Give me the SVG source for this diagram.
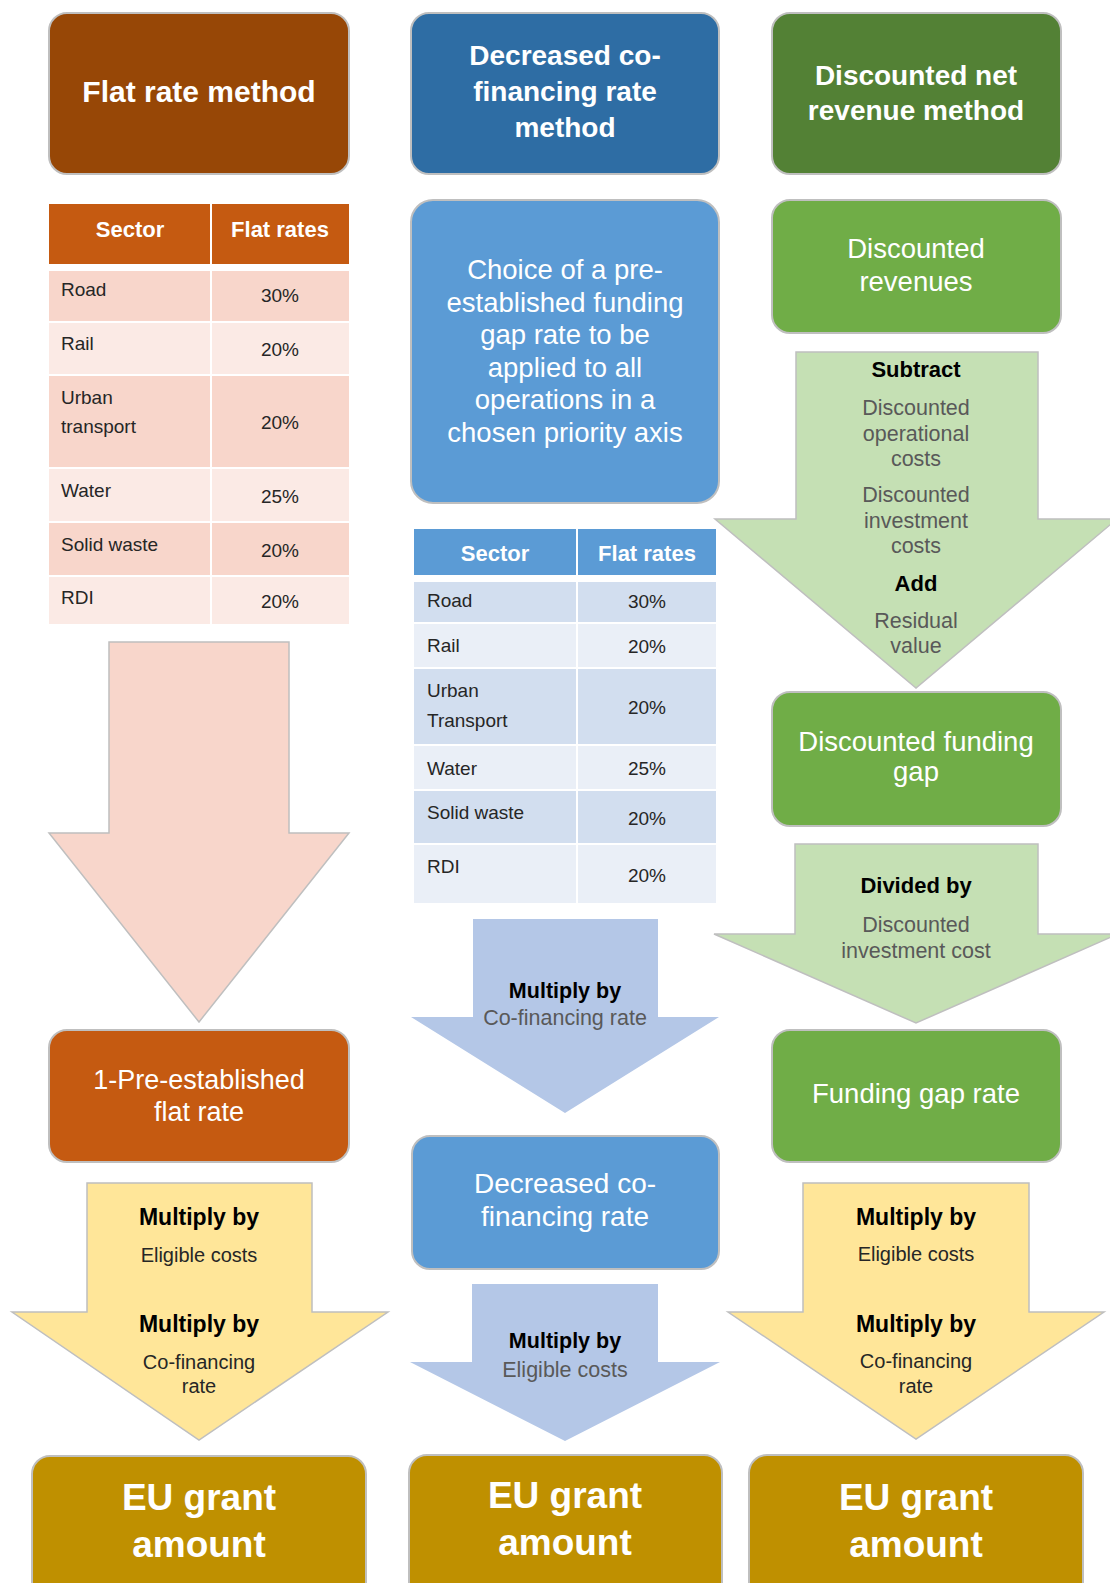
<svg xmlns="http://www.w3.org/2000/svg" width="1110" height="1583" viewBox="0 0 1110 1583">
<style>
text{font-family:"Liberation Sans",Arial,sans-serif;text-anchor:middle}
.box{stroke:#BFBFBF;stroke-width:2}
.arr{stroke:#BFBFBF;stroke-width:1.5}
.hd{fill:#fff;font-weight:bold}
.wt{fill:#fff}
.th{fill:#fff;font-weight:bold;font-size:22px}
.td{fill:#262626;font-size:19px;text-anchor:start}
.tn{fill:#262626;font-size:19px}
.bk{fill:#000;font-weight:bold}
.gr{fill:#595959}
.dk{fill:#262626}
.eu{fill:#fff;font-weight:bold;font-size:37px}
</style>
<rect width="1110" height="1583" fill="#fff"/>
<g id="connectors">
<path id="arrow-flat" class="arr" fill="#F8D6CB" d="M109,642 H289 V833 H349 L199,1022 L49,833 H109 Z"/>
<path id="arrow-yellow1" class="arr" fill="#FFE699" d="M87,1183 H312 V1312 H388 L199,1440 L12,1312 H87 Z"/>
<path id="arrow-blue1" fill="#B4C7E7" d="M473,919 H658 V1017 H719 L565,1113 L411,1017 H473 Z"/>
<path id="arrow-blue2" fill="#B4C7E7" d="M472,1284 H658 V1362 H720 L565,1441 L410,1362 H472 Z"/>
<path id="arrow-green1" class="arr" fill="#C5E0B4" d="M796,352 H1038 V519 H1117 L916,688 L715,519 H796 Z"/>
<path id="arrow-green2" class="arr" fill="#C5E0B4" d="M795,844 H1038 V934 H1118 L916,1023 L714,934 H795 Z"/>
<path id="arrow-yellow3" class="arr" fill="#FFE699" d="M803,1183 H1029 V1312 H1104 L916,1439 L728,1312 H803 Z"/>
</g>
<g id="arrow-labels">
<text class="bk" x="199" y="1225" font-size="23">Multiply by</text>
<text class="dk" x="199" y="1262" font-size="20">Eligible costs</text>
<text class="bk" x="199" y="1332" font-size="23">Multiply by</text>
<text class="dk" x="199" y="1369" font-size="20">Co-financing</text>
<text class="dk" x="199" y="1393" font-size="20">rate</text>
<text class="bk" x="565" y="998" font-size="21.5">Multiply by</text>
<text class="gr" x="565" y="1025" font-size="21.5">Co-financing rate</text>
<text class="bk" x="565" y="1348" font-size="21.5">Multiply by</text>
<text class="gr" x="565" y="1377" font-size="21.5">Eligible costs</text>
<text class="bk" x="916" y="377" font-size="22">Subtract</text>
<text class="gr" x="916" y="415" font-size="21.5">Discounted</text>
<text class="gr" x="916" y="441" font-size="21.5">operational</text>
<text class="gr" x="916" y="466" font-size="21.5">costs</text>
<text class="gr" x="916" y="502" font-size="21.5">Discounted</text>
<text class="gr" x="916" y="528" font-size="21.5">investment</text>
<text class="gr" x="916" y="553" font-size="21.5">costs</text>
<text class="bk" x="916" y="591" font-size="22">Add</text>
<text class="gr" x="916" y="628" font-size="21.5">Residual</text>
<text class="gr" x="916" y="653" font-size="21.5">value</text>
<text class="bk" x="916" y="893" font-size="22">Divided by</text>
<text class="gr" x="916" y="932" font-size="21.5">Discounted</text>
<text class="gr" x="916" y="958" font-size="21.5">investment cost</text>
<text class="bk" x="916" y="1225" font-size="23">Multiply by</text>
<text class="dk" x="916" y="1261" font-size="20">Eligible costs</text>
<text class="bk" x="916" y="1332" font-size="23">Multiply by</text>
<text class="dk" x="916" y="1368" font-size="20">Co-financing</text>
<text class="dk" x="916" y="1393" font-size="20">rate</text>
</g>
<g id="flat-rate-method">
<rect class="box" x="49" y="13" width="300" height="161" rx="18" fill="#974706"/>
<text class="hd" x="199" y="102" font-size="30">Flat rate method</text>
</g>
<g id="table-flat">
<rect x="49" y="204" width="161" height="60" fill="#C55A11"/>
<rect x="212" y="204" width="137" height="60" fill="#C55A11"/>
<text class="th" x="130" y="237">Sector</text>
<text class="th" x="280" y="237">Flat rates</text>
<rect x="49" y="271" width="161" height="50" fill="#F8D6CB"/><rect x="212" y="271" width="137" height="50" fill="#F8D6CB"/>
<rect x="49" y="323" width="161" height="51" fill="#FBEAE5"/><rect x="212" y="323" width="137" height="51" fill="#FBEAE5"/>
<rect x="49" y="376" width="161" height="91" fill="#F8D6CB"/><rect x="212" y="376" width="137" height="91" fill="#F8D6CB"/>
<rect x="49" y="469" width="161" height="52" fill="#FBEAE5"/><rect x="212" y="469" width="137" height="52" fill="#FBEAE5"/>
<rect x="49" y="523" width="161" height="52" fill="#F8D6CB"/><rect x="212" y="523" width="137" height="52" fill="#F8D6CB"/>
<rect x="49" y="577" width="161" height="47" fill="#FBEAE5"/><rect x="212" y="577" width="137" height="47" fill="#FBEAE5"/>
<text class="td" x="61" y="296">Road</text><text class="tn" x="280" y="302">30%</text>
<text class="td" x="61" y="350">Rail</text><text class="tn" x="280" y="356">20%</text>
<text class="td" x="61" y="404">Urban</text><text class="td" x="61" y="433">transport</text><text class="tn" x="280" y="429">20%</text>
<text class="td" x="61" y="497">Water</text><text class="tn" x="280" y="503">25%</text>
<text class="td" x="61" y="551">Solid waste</text><text class="tn" x="280" y="557">20%</text>
<text class="td" x="61" y="604">RDI</text><text class="tn" x="280" y="608">20%</text>
</g>
<g id="pre-established-flat-rate">
<rect class="box" x="49" y="1030" width="300" height="132" rx="18" fill="#C55A11"/>
<text class="wt" x="199" y="1089" font-size="27">1-Pre-established</text>
<text class="wt" x="199" y="1121" font-size="27">flat rate</text>
</g>
<g id="eu-grant-1">
<rect class="box" x="32" y="1456" width="334" height="160" rx="18" fill="#BF9000"/>
<text class="eu" x="199" y="1510">EU grant</text>
<text class="eu" x="199" y="1557">amount</text>
</g>
<g id="decreased-method">
<rect class="box" x="411" y="13" width="308" height="161" rx="18" fill="#2E6DA4"/>
<text class="hd" x="565" y="65" font-size="28">Decreased co-</text>
<text class="hd" x="565" y="101" font-size="28">financing rate</text>
<text class="hd" x="565" y="137" font-size="28">method</text>
</g>
<g id="choice-box">
<rect class="box" x="411" y="200" width="308" height="303" rx="22" fill="#5B9BD5"/>
<text class="wt" x="565" y="279" font-size="27.5">Choice of a pre-</text>
<text class="wt" x="565" y="312" font-size="27.5">established funding</text>
<text class="wt" x="565" y="344" font-size="27.5">gap rate to be</text>
<text class="wt" x="565" y="377" font-size="27.5">applied to all</text>
<text class="wt" x="565" y="409" font-size="27.5">operations in a</text>
<text class="wt" x="565" y="442" font-size="27.5">chosen priority axis</text>
</g>
<g id="table-decreased">
<rect x="414" y="529" width="162" height="46" fill="#5B9BD5"/>
<rect x="578" y="529" width="138" height="46" fill="#5B9BD5"/>
<text class="th" x="495" y="561">Sector</text>
<text class="th" x="647" y="561">Flat rates</text>
<rect x="414" y="582" width="162" height="40" fill="#D2DEEF"/><rect x="578" y="582" width="138" height="40" fill="#D2DEEF"/>
<rect x="414" y="624" width="162" height="43" fill="#EAEFF7"/><rect x="578" y="624" width="138" height="43" fill="#EAEFF7"/>
<rect x="414" y="669" width="162" height="75" fill="#D2DEEF"/><rect x="578" y="669" width="138" height="75" fill="#D2DEEF"/>
<rect x="414" y="746" width="162" height="43" fill="#EAEFF7"/><rect x="578" y="746" width="138" height="43" fill="#EAEFF7"/>
<rect x="414" y="791" width="162" height="52" fill="#D2DEEF"/><rect x="578" y="791" width="138" height="52" fill="#D2DEEF"/>
<rect x="414" y="845" width="162" height="58" fill="#EAEFF7"/><rect x="578" y="845" width="138" height="58" fill="#EAEFF7"/>
<text class="td" x="427" y="607">Road</text><text class="tn" x="647" y="608">30%</text>
<text class="td" x="427" y="652">Rail</text><text class="tn" x="647" y="653">20%</text>
<text class="td" x="427" y="697">Urban</text><text class="td" x="427" y="727">Transport</text><text class="tn" x="647" y="714">20%</text>
<text class="td" x="427" y="775">Water</text><text class="tn" x="647" y="775">25%</text>
<text class="td" x="427" y="819">Solid waste</text><text class="tn" x="647" y="825">20%</text>
<text class="td" x="427" y="873">RDI</text><text class="tn" x="647" y="882">20%</text>
</g>
<g id="decreased-rate">
<rect class="box" x="412" y="1136" width="307" height="133" rx="18" fill="#5B9BD5"/>
<text class="wt" x="565" y="1193" font-size="28">Decreased co-</text>
<text class="wt" x="565" y="1226" font-size="28">financing rate</text>
</g>
<g id="eu-grant-2">
<rect class="box" x="409" y="1455" width="313" height="160" rx="18" fill="#BF9000"/>
<text class="eu" x="565" y="1508">EU grant</text>
<text class="eu" x="565" y="1555">amount</text>
</g>
<g id="discounted-method">
<rect class="box" x="772" y="13" width="289" height="161" rx="18" fill="#538135"/>
<text class="hd" x="916" y="85" font-size="28">Discounted net</text>
<text class="hd" x="916" y="120" font-size="28">revenue method</text>
</g>
<g id="discounted-revenues">
<rect class="box" x="772" y="200" width="289" height="133" rx="18" fill="#70AD47"/>
<text class="wt" x="916" y="258" font-size="27.5">Discounted</text>
<text class="wt" x="916" y="291" font-size="27.5">revenues</text>
</g>
<g id="discounted-funding-gap">
<rect class="box" x="772" y="692" width="289" height="134" rx="18" fill="#70AD47"/>
<text class="wt" x="916" y="751" font-size="27.5">Discounted funding</text>
<text class="wt" x="916" y="781" font-size="27.5">gap</text>
</g>
<g id="funding-gap-rate">
<rect class="box" x="772" y="1030" width="289" height="132" rx="18" fill="#70AD47"/>
<text class="wt" x="916" y="1103" font-size="27.5">Funding gap rate</text>
</g>
<g id="eu-grant-3">
<rect class="box" x="749" y="1455" width="334" height="160" rx="18" fill="#BF9000"/>
<text class="eu" x="916" y="1510">EU grant</text>
<text class="eu" x="916" y="1557">amount</text>
</g>
</svg>
